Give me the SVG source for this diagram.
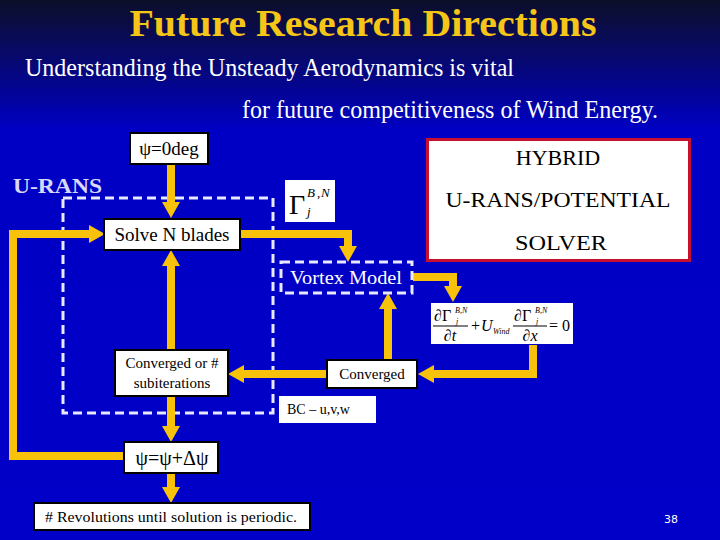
<svg xmlns="http://www.w3.org/2000/svg" width="720" height="540" viewBox="0 0 720 540">
<defs>
<linearGradient id="bg" x1="0" y1="0" x2="0" y2="1">
<stop offset="0" stop-color="#0c0f28"/>
<stop offset="0.24" stop-color="#0000c4"/>
<stop offset="1" stop-color="#0000c8"/>
</linearGradient>
<marker id="ah" markerUnits="userSpaceOnUse" markerWidth="16" markerHeight="18" viewBox="0 0 16 18" refX="2" refY="9" orient="auto">
<path d="M0,0 L16,9 L0,18 z" fill="#f9c20a"/>
</marker>
<style>
.serif{font-family:"Liberation Serif","Times New Roman",serif}
.box{fill:#fff;stroke:#000;stroke-width:2}
.wbox{fill:#fff}
.lbl{font-family:"Liberation Serif","Times New Roman",serif;fill:#000;text-anchor:middle}
.conn{fill:none;stroke:#f9c20a;stroke-width:8;stroke-linejoin:miter;marker-end:url(#ah)}
.dash{fill:none;stroke:#e8e8ff;stroke-width:3;stroke-dasharray:9 5}
.it{font-style:italic}
</style>
</defs>
<rect width="720" height="540" fill="url(#bg)"/>

<g id="title">
<text x="363" y="36" class="serif" font-size="38" font-weight="bold" fill="#f5c518" text-anchor="middle" textLength="467" lengthAdjust="spacingAndGlyphs">Future Research Directions</text>
<text x="25" y="76" class="serif" font-size="25" fill="#ffffff" textLength="489" lengthAdjust="spacingAndGlyphs">Understanding the Unsteady Aerodynamics is vital</text>
<text x="242" y="118" class="serif" font-size="25" fill="#ffffff" textLength="416" lengthAdjust="spacingAndGlyphs">for future competitiveness of Wind Energy.</text>
</g>

<g id="urans-region">
<rect x="63" y="198" width="210" height="215" class="dash"/>
<text x="13" y="193" class="serif" font-size="22" font-weight="bold" fill="#d8d8f8" textLength="89" lengthAdjust="spacingAndGlyphs">U-RANS</text>
</g>

<g id="connectors">
<path class="conn" d="M171,164 V204"/>
<path class="conn" d="M123,456 H13 V234 H91"/>
<path class="conn" d="M240,234 H348 V248"/>
<path class="conn" d="M413,277 H453 V288"/>
<path class="conn" d="M533,345 V374 H432"/>
<path class="conn" d="M388,360 V307"/>
<path class="conn" d="M327,374 H242"/>
<path class="conn" d="M171,350 V264"/>
<path class="conn" d="M171,397 V428"/>
<path class="conn" d="M171,473 V489"/>
</g>

<g id="psi0">
<rect x="130" y="133" width="78" height="31" class="box"/>
<text x="169" y="155" class="lbl" font-size="19">ψ=0deg</text>
</g>

<g id="hybrid">
<rect x="427.500" y="139.500" width="262" height="121" fill="#fff" stroke="#c8102e" stroke-width="3"/>
<text x="558" y="165" class="lbl" font-size="22">HYBRID</text>
<text x="558" y="207" class="lbl" font-size="22" textLength="225" lengthAdjust="spacingAndGlyphs">U-RANS/POTENTIAL</text>
<text x="561" y="250" class="lbl" font-size="22" textLength="92" lengthAdjust="spacingAndGlyphs">SOLVER</text>
</g>

<g id="gamma">
<rect x="285" y="180" width="50" height="42" class="wbox"/>
<text x="289" y="214" class="serif" font-size="28" fill="#000">Γ</text>
<text x="307" y="197" class="serif it" font-size="13" fill="#000">B</text>
<text x="317" y="197" class="serif" font-size="13" fill="#000">,</text>
<text x="321" y="197" class="serif it" font-size="13" fill="#000">N</text>
<text x="307" y="216" class="serif it" font-size="13" fill="#000">j</text>
</g>

<g id="solve">
<rect x="104" y="219" width="136" height="31" class="box"/>
<text x="172" y="241" class="lbl" font-size="19">Solve N blades</text>
</g>

<g id="vortex">
<rect x="281" y="262" width="131" height="31" class="dash"/>
<text x="346" y="284" class="serif" font-size="19" fill="#ffffff" text-anchor="middle" textLength="112" lengthAdjust="spacingAndGlyphs">Vortex Model</text>
</g>

<g id="equation">
<rect x="431" y="303" width="142" height="41" class="wbox"/>
<text x="434" y="321" class="serif" font-size="16" fill="#000">∂Γ</text>
<text x="455" y="313" class="serif it" font-size="8" fill="#000">B,N</text>
<text x="456" y="324" class="serif it" font-size="8" fill="#000">j</text>
<line x1="433" y1="326" x2="468" y2="326" stroke="#000" stroke-width="1"/>
<text x="450" y="341" class="serif" font-size="16" fill="#000" text-anchor="middle">∂<tspan class="it">t</tspan></text>
<text x="471" y="331" class="serif" font-size="16" fill="#000">+</text>
<text x="481" y="331" class="serif it" font-size="16" fill="#000">U</text>
<text x="493" y="334" class="serif it" font-size="8" fill="#000">Wind</text>
<text x="514" y="321" class="serif" font-size="16" fill="#000">∂Γ</text>
<text x="535" y="313" class="serif it" font-size="8" fill="#000">B,N</text>
<text x="536" y="324" class="serif it" font-size="8" fill="#000">j</text>
<line x1="513" y1="326" x2="547" y2="326" stroke="#000" stroke-width="1"/>
<text x="530" y="341" class="serif" font-size="16" fill="#000" text-anchor="middle">∂<tspan class="it">x</tspan></text>
<text x="549" y="331" class="serif" font-size="16" fill="#000">= 0</text>
</g>

<g id="converged">
<rect x="327" y="360" width="90" height="28" class="box"/>
<text x="372" y="379" class="lbl" font-size="15">Converged</text>
</g>

<g id="converged-or">
<rect x="115" y="350" width="113" height="46" class="box"/>
<text x="172" y="368" class="lbl" font-size="15">Converged or #</text>
<text x="172" y="388" class="lbl" font-size="15">subiterations</text>
</g>

<g id="bc">
<rect x="279" y="396" width="97" height="27" class="wbox"/>
<text x="287" y="414" class="serif" font-size="14" fill="#000">BC – u,v,w</text>
</g>

<g id="psi-inc">
<rect x="124" y="442" width="94" height="31" class="box"/>
<text x="172" y="465" class="lbl" font-size="20">ψ=ψ+Δψ</text>
</g>

<g id="revolutions">
<rect x="34" y="503" width="276" height="27" class="box"/>
<text x="45" y="522" class="serif" font-size="15" fill="#000" textLength="252" lengthAdjust="spacingAndGlyphs"># Revolutions until  solution is periodic.</text>
</g>

<text x="671" y="523" font-family="DejaVu Sans, sans-serif" font-size="11" fill="#ffffff" text-anchor="middle">38</text>
</svg>
